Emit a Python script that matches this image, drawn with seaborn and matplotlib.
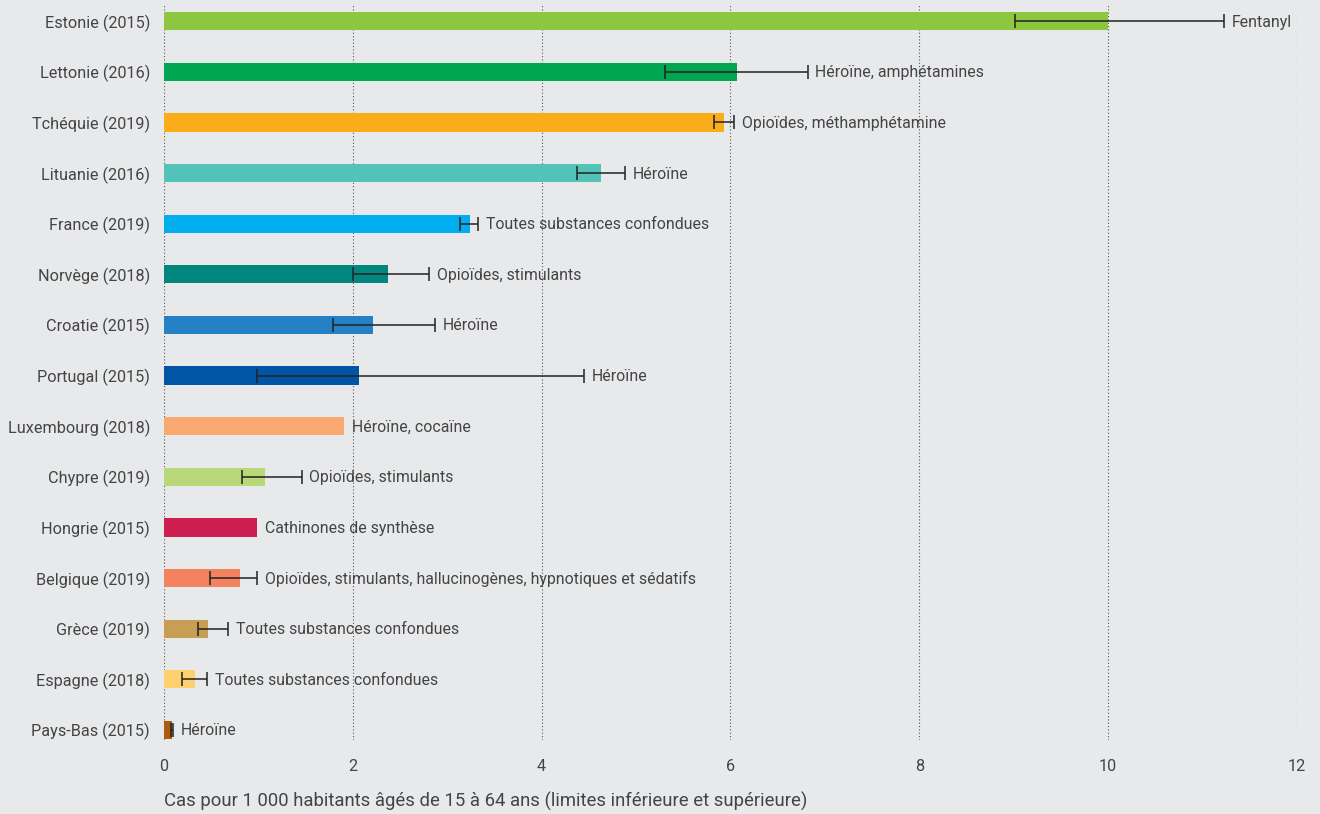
import numpy as np
import pandas as pd
import seaborn as sns
import matplotlib.pyplot as plt

# --- données ---
pays = ['Estonie (2015)', 'Lettonie (2016)', 'Tchéquie (2019)', 'Lituanie (2016)',
        'France (2019)', 'Norvège (2018)', 'Croatie (2015)', 'Portugal (2015)',
        'Luxembourg (2018)', 'Chypre (2019)', 'Hongrie (2015)', 'Belgique (2019)',
        'Grèce (2019)', 'Espagne (2018)', 'Pays-Bas (2015)']
valeurs = [10.0, 6.07, 5.93, 4.63, 3.24, 2.37, 2.21, 2.07, 1.91, 1.07, 0.99, 0.81, 0.47, 0.33, 0.085]
borne_inf = [9.01, 5.31, 5.83, 4.37, 3.14, 2.0, 1.79, 0.99, np.nan, 0.83, np.nan, 0.49, 0.36, 0.19, 0.07]
borne_sup = [11.23, 6.82, 6.04, 4.88, 3.33, 2.81, 2.87, 4.45, np.nan, 1.46, np.nan, 0.99, 0.68, 0.46, 0.10]
substances = ['Fentanyl', 'Héroïne, amphétamines', 'Opioïdes, méthamphétamine', 'Héroïne',
              'Toutes substances confondues', 'Opioïdes, stimulants', 'Héroïne', 'Héroïne',
              'Héroïne, cocaïne', 'Opioïdes, stimulants', 'Cathinones de synthèse',
              'Opioïdes, stimulants, hallucinogènes, hypnotiques et sédatifs',
              'Toutes substances confondues', 'Toutes substances confondues', 'Héroïne']
couleurs = ['#8DC63F', '#00A651', '#FAAD19', '#53C2B9', '#00AEEF', '#038680', '#2680C6',
            '#0255A5', '#F9A870', '#B9D87A', '#CD1F4F', '#F3825E', '#C89E55', '#FFD06E', '#B05A0E']

df = pd.DataFrame({'pays': pays, 'valeur': valeurs, 'inf': borne_inf, 'sup': borne_sup})

FOND = '#E8E9EB'
TEXTE = '#444444'

sns.set_theme(style='white')
plt.rcParams['font.family'] = ['Roboto', 'DejaVu Sans']

fig = plt.figure(figsize=(13.2, 8.14), dpi=100, facecolor=FOND)
ax = fig.add_axes([0.1242, 0.0909, 0.8584, 0.903])
ax.set_facecolor(FOND)

sns.barplot(data=df, x='valeur', y='pays', hue='pays', palette=couleurs, order=pays,
            width=0.36, orient='h', legend=False, ax=ax, saturation=1, linewidth=0)

# barres d'erreur (limites inférieure et supérieure)
ypos = np.arange(len(pays))
avec_err = df['inf'].notna()
ax.errorbar(df['valeur'][avec_err], ypos[avec_err],
            xerr=[(df['valeur'] - df['inf'])[avec_err], (df['sup'] - df['valeur'])[avec_err]],
            fmt='none', ecolor='#222222', elinewidth=1.1, capsize=4.7, capthick=1.1, zorder=4)

# étiquettes des substances
for i, (v, s, lab) in enumerate(zip(valeurs, borne_sup, substances)):
    x = v if np.isnan(s) else max(v, s)
    ax.text(x + 0.08, i + 0.02, lab, va='center', ha='left', fontsize=11.4, color=TEXTE)

ax.set_xlim(0, 12)
ax.set_ylim(14.2, -0.32)
ax.set_xticks(range(0, 13, 2))
for xg in range(0, 13, 2):
    ax.axvline(xg, color='#555555', linewidth=0.8, linestyle=(0, (1, 2)), zorder=0)

for sp in ax.spines.values():
    sp.set_visible(False)
ax.tick_params(axis='both', length=0, labelsize=11.7, labelcolor=TEXTE)
ax.tick_params(axis='x', pad=14)
ax.tick_params(axis='y', pad=10)
ax.set_ylabel('')
ax.set_xlabel('')
fig.text(0.1242, 0.004, 'Cas pour 1 000 habitants âgés de 15 à 64 ans (limites inférieure et supérieure)',
         ha='left', va='bottom', fontsize=13.3, color=TEXTE)

plt.savefig('out.png', dpi=100, facecolor=FOND)
plt.close()
